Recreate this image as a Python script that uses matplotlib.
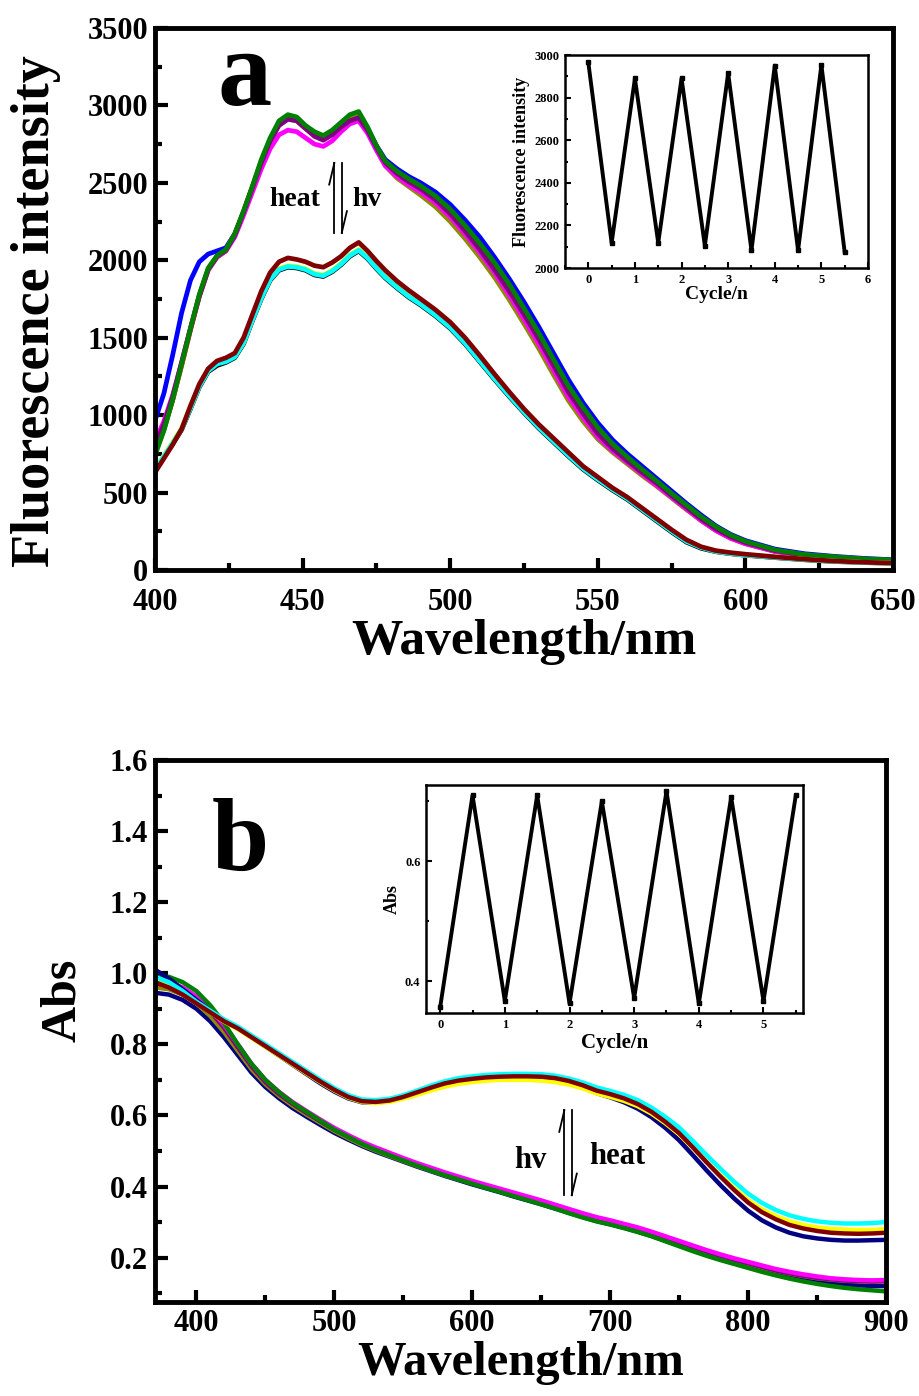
"""Fluorescence / absorption switching spectra with cycle insets"""

import matplotlib
matplotlib.use('Agg')
import matplotlib.pyplot as plt
from matplotlib.ticker import MultipleLocator

plt.rcParams['font.family'] = ['Liberation Serif', 'DejaVu Sans']
plt.rcParams['font.weight'] = 'bold'

# ---------------- panel a : fluorescence spectra ----------------
WL_A = [400, 403, 406, 409, 412, 415, 418, 421, 424, 427, 430, 433, 436, 439,
        442, 445, 448, 451, 454, 457, 460, 463, 466, 469, 472, 475, 478,
        482, 486, 490,
        495, 500, 505, 510, 515, 520, 525, 530, 535, 540, 545, 550, 555, 560,
        565, 570, 575, 580, 585, 590, 595, 600,
        610, 620, 630, 640, 650]

# upper group (heated state)
FL_BLUE = [965, 1140, 1390, 1660, 1870, 1990, 2040, 2060, 2080, 2170, 2310, 2470, 2630, 2770,
           2880, 2920, 2905, 2860, 2810, 2790, 2830, 2880, 2920, 2945, 2850, 2740, 2650,
           2590, 2540, 2500,
           2440, 2360, 2260, 2150, 2020, 1880, 1730, 1570, 1400, 1230, 1080, 950, 840, 750,
           670, 590, 510, 430, 355, 285, 230, 190,
           135, 105, 88, 75, 66]
FL_RED = [760, 910, 1100, 1320, 1550, 1770, 1940, 2025, 2065, 2165, 2315, 2475, 2640, 2780,
          2890, 2925, 2910, 2860, 2815, 2790, 2825, 2875, 2925, 2945, 2850, 2735, 2635,
          2565, 2515, 2470,
          2400, 2310, 2200, 2080, 1950, 1800, 1640, 1480, 1310, 1140, 1000, 870, 775, 695,
          620, 550, 470, 395, 320, 255, 205, 170,
          120, 95, 80, 68, 60]
FL_OLIVE = [760, 905, 1100, 1320, 1550, 1765, 1935, 2020, 2060, 2160, 2310, 2470, 2635, 2775,
            2880, 2915, 2900, 2850, 2810, 2785, 2820, 2870, 2915, 2935, 2840, 2720, 2610,
            2530, 2475, 2420,
            2345, 2250, 2140, 2020, 1890, 1745, 1590, 1430, 1260, 1095, 960, 845, 760, 685,
            610, 540, 465, 390, 320, 260, 210, 175,
            125, 98, 83, 70, 62]
FL_MAGENTA = [830, 960, 1130, 1340, 1560, 1770, 1940, 2020, 2060, 2150, 2290, 2440, 2590, 2720,
              2810, 2840, 2830, 2790, 2750, 2735, 2770, 2830, 2880, 2900, 2820, 2710, 2610,
              2540, 2485, 2440,
              2370, 2280, 2170, 2050, 1920, 1775, 1620, 1460, 1290, 1120, 985, 860, 770, 695,
              620, 545, 470, 395, 320, 255, 205, 170,
              120, 95, 80, 68, 60]
FL_PURPLE = [800, 940, 1120, 1340, 1560, 1770, 1940, 2025, 2065, 2160, 2310, 2470, 2630, 2770,
             2870, 2910, 2900, 2850, 2800, 2775, 2810, 2860, 2900, 2920, 2840, 2730, 2630,
             2560, 2505, 2460,
             2390, 2300, 2190, 2070, 1940, 1800, 1650, 1490, 1320, 1150, 1010, 880, 785, 705,
             630, 560, 480, 405, 330, 265, 215, 178,
             125, 97, 82, 70, 62]
FL_GREEN = [740, 900, 1100, 1330, 1560, 1780, 1950, 2030, 2070, 2170, 2320, 2480, 2650, 2790,
            2900, 2940, 2925, 2870, 2830, 2805, 2840, 2890, 2940, 2960, 2860, 2740, 2640,
            2575, 2525, 2480,
            2415, 2330, 2225, 2110, 1985, 1845, 1690, 1530, 1360, 1190, 1050, 920, 815, 730,
            650, 575, 495, 420, 345, 280, 225, 185,
            130, 100, 85, 72, 64]

# lower group (irradiated state)
FL_BLACK = [640, 730, 815, 905, 1040, 1180, 1280, 1320, 1340, 1370, 1460, 1610, 1750, 1870,
            1935, 1955, 1950, 1935, 1905, 1895, 1925, 1970, 2025, 2060, 2010, 1945, 1885,
            1820, 1760, 1710,
            1640, 1560, 1460, 1345, 1230, 1120, 1015, 915, 825, 735, 650, 580, 515, 455,
            385, 315, 245, 180, 140, 118, 105, 95,
            80, 66, 55, 48, 43]
FL_YELLOW = [650, 740, 825, 915, 1050, 1190, 1290, 1335, 1350, 1380, 1470, 1620, 1760, 1880,
             1945, 1965, 1960, 1945, 1915, 1905, 1935, 1980, 2035, 2070, 2020, 1955, 1895,
             1830, 1770, 1720,
             1650, 1570, 1470, 1355, 1240, 1130, 1025, 925, 835, 745, 660, 590, 525, 465,
             395, 325, 255, 190, 148, 122, 108, 98,
             83, 69, 57, 49, 44]
FL_CYAN = [645, 735, 820, 910, 1045, 1185, 1285, 1330, 1345, 1375, 1465, 1615, 1755, 1875,
           1940, 1960, 1955, 1940, 1910, 1900, 1930, 1975, 2030, 2065, 2015, 1950, 1890,
           1825, 1765, 1715,
           1645, 1565, 1465, 1350, 1235, 1125, 1020, 920, 830, 740, 655, 585, 520, 460,
           390, 320, 250, 185, 145, 120, 107, 97,
           82, 68, 57, 49, 44]
FL_MAROON = [630, 720, 810, 910, 1060, 1200, 1300, 1350, 1370, 1400, 1500, 1650, 1800, 1920,
             1990, 2015, 2005, 1990, 1965, 1955, 1985, 2025, 2080, 2115, 2060, 1995, 1935,
             1865, 1805, 1750,
             1680, 1600, 1500, 1385, 1265, 1150, 1040, 940, 850, 760, 670, 600, 530, 470,
             400, 330, 260, 195, 150, 125, 112, 102,
             85, 70, 58, 50, 45]

# inset a : intensity over switching cycles
CYC_A = [0, 0.5, 1, 1.5, 2, 2.5, 3, 3.5, 4, 4.5, 5, 5.5]
CYC_FL = [2965, 2118, 2890, 2118, 2890, 2105, 2915, 2083, 2950, 2083, 2953, 2074]

# ---------------- panel b : absorption spectra ----------------
WL_B = [370, 380, 390, 400, 410, 420, 430, 440, 450, 460,
        470, 480, 490, 500, 510, 520, 530, 540, 550, 560,
        570, 580, 590, 600, 610, 620, 630, 640, 650, 660,
        670, 680, 690, 700, 710, 720, 730, 740, 750, 760,
        770, 780, 790, 800, 810, 820, 830, 840, 850, 860,
        870, 880, 890, 900]

# coloured (irradiated) state
AB_NAVY_C = [1.01, 0.985, 0.955, 0.925, 0.895, 0.868, 0.846, 0.82, 0.794, 0.768,
             0.742, 0.716, 0.69, 0.667, 0.648, 0.637, 0.636, 0.64, 0.65, 0.663,
             0.676, 0.688, 0.696, 0.701, 0.705, 0.707, 0.708, 0.708, 0.706, 0.701,
             0.692, 0.679, 0.663, 0.651, 0.637, 0.619, 0.595, 0.565, 0.53, 0.488,
             0.445, 0.404, 0.366, 0.332, 0.305, 0.285, 0.27, 0.26, 0.254, 0.25,
             0.248, 0.248, 0.249, 0.25]
AB_YELLOW_C = [0.98, 0.965, 0.942, 0.916, 0.89, 0.864, 0.843, 0.818, 0.793, 0.768,
               0.743, 0.718, 0.693, 0.67, 0.65, 0.638, 0.635, 0.638, 0.647, 0.658,
               0.67, 0.681, 0.689, 0.694, 0.698, 0.7, 0.7, 0.7, 0.698, 0.694,
               0.687, 0.676, 0.662, 0.652, 0.641, 0.626, 0.605, 0.578, 0.547, 0.509,
               0.469, 0.431, 0.395, 0.362, 0.336, 0.317, 0.302, 0.292, 0.285, 0.281,
               0.279, 0.278, 0.278, 0.28]
AB_CYAN_C = [0.99, 0.975, 0.95, 0.92, 0.895, 0.87, 0.85, 0.825, 0.8, 0.775,
             0.75, 0.725, 0.7, 0.677, 0.657, 0.645, 0.643, 0.647, 0.657, 0.67,
             0.684, 0.696, 0.705, 0.71, 0.714, 0.716, 0.717, 0.717, 0.716, 0.712,
             0.704, 0.693, 0.679, 0.669, 0.658, 0.643, 0.622, 0.596, 0.566, 0.528,
             0.488, 0.45, 0.413, 0.38, 0.354, 0.334, 0.319, 0.309, 0.302, 0.298,
             0.296, 0.296, 0.297, 0.3]
AB_MAROON_C = [0.975, 0.96, 0.94, 0.915, 0.89, 0.865, 0.845, 0.82, 0.795, 0.77,
               0.745, 0.72, 0.695, 0.672, 0.652, 0.64, 0.638, 0.642, 0.652, 0.665,
               0.678, 0.69, 0.698, 0.703, 0.707, 0.709, 0.71, 0.71, 0.709, 0.705,
               0.697, 0.685, 0.67, 0.66, 0.648, 0.632, 0.61, 0.582, 0.55, 0.51,
               0.468, 0.428, 0.39, 0.355, 0.328, 0.308, 0.292, 0.282, 0.275, 0.27,
               0.268, 0.267, 0.268, 0.27]

# bleached (heated) state
AB_NAVY_B = [0.945, 0.94, 0.925, 0.9, 0.865, 0.82, 0.77, 0.72, 0.68, 0.648,
             0.62, 0.596, 0.573, 0.551, 0.532, 0.514, 0.498, 0.484, 0.47, 0.456,
             0.443, 0.43, 0.418, 0.406, 0.395, 0.384, 0.372, 0.361, 0.35, 0.338,
             0.326, 0.314, 0.303, 0.294, 0.284, 0.273, 0.261, 0.248, 0.234, 0.22,
             0.207, 0.195, 0.184, 0.174, 0.164, 0.155, 0.147, 0.14, 0.134, 0.129,
             0.125, 0.122, 0.12, 0.12]
AB_OLIVE_B = [0.96, 0.955, 0.94, 0.915, 0.88, 0.835, 0.782, 0.73, 0.688, 0.655,
              0.627, 0.602, 0.579, 0.556, 0.536, 0.517, 0.501, 0.486, 0.472, 0.458,
              0.445, 0.432, 0.42, 0.409, 0.398, 0.387, 0.376, 0.365, 0.354, 0.342,
              0.33, 0.318, 0.307, 0.298, 0.289, 0.279, 0.267, 0.254, 0.241, 0.228,
              0.215, 0.203, 0.192, 0.182, 0.172, 0.163, 0.155, 0.148, 0.142, 0.138,
              0.135, 0.133, 0.132, 0.133]
AB_PURPLE_B = [0.97, 0.97, 0.955, 0.93, 0.893, 0.847, 0.792, 0.738, 0.694, 0.66,
               0.632, 0.607, 0.583, 0.56, 0.54, 0.521, 0.505, 0.49, 0.476, 0.462,
               0.449, 0.436, 0.424, 0.412, 0.401, 0.39, 0.379, 0.368, 0.357, 0.345,
               0.333, 0.321, 0.31, 0.301, 0.291, 0.281, 0.269, 0.256, 0.243, 0.23,
               0.217, 0.205, 0.194, 0.184, 0.174, 0.164, 0.156, 0.149, 0.143, 0.139,
               0.136, 0.134, 0.133, 0.134]
AB_MAGENTA_B = [0.975, 0.975, 0.96, 0.935, 0.9, 0.855, 0.8, 0.745, 0.7, 0.666,
                0.637, 0.612, 0.588, 0.565, 0.545, 0.526, 0.51, 0.495, 0.48, 0.466,
                0.453, 0.44, 0.428, 0.416, 0.405, 0.394, 0.383, 0.372, 0.361, 0.349,
                0.337, 0.325, 0.314, 0.305, 0.295, 0.285, 0.273, 0.26, 0.247, 0.234,
                0.221, 0.209, 0.198, 0.188, 0.178, 0.168, 0.16, 0.153, 0.147, 0.142,
                0.139, 0.137, 0.136, 0.137]
AB_GREEN_B = [0.99, 0.99, 0.975, 0.95, 0.91, 0.86, 0.80, 0.745, 0.70, 0.665,
              0.635, 0.61, 0.585, 0.56, 0.54, 0.52, 0.503, 0.488, 0.473, 0.459,
              0.445, 0.432, 0.42, 0.408, 0.396, 0.385, 0.373, 0.362, 0.35, 0.338,
              0.325, 0.313, 0.302, 0.293, 0.283, 0.272, 0.26, 0.246, 0.232, 0.218,
              0.205, 0.193, 0.182, 0.171, 0.16, 0.15, 0.141, 0.133, 0.126, 0.12,
              0.115, 0.111, 0.108, 0.105]

# inset b : absorbance over switching cycles
CYC_B = [0, 0.5, 1, 1.5, 2, 2.5, 3, 3.5, 4, 4.5, 5, 5.5]
CYC_ABS = [0.357, 0.71, 0.367, 0.71, 0.363, 0.70, 0.372, 0.717, 0.363, 0.707, 0.367, 0.71]


def style_main(ax, xpad=10):
    for sp in ax.spines.values():
        sp.set_linewidth(3.5)
    ax.tick_params(which='both', direction='in', width=3, labelsize=22)
    ax.tick_params(which='major', length=9)
    ax.tick_params(which='minor', length=5)
    ax.tick_params(axis='x', pad=xpad)
    ax.tick_params(axis='y', pad=5)


def style_inset(ax):
    for sp in ax.spines.values():
        sp.set_linewidth(1.8)
    ax.tick_params(which='both', direction='in', width=1.5, labelsize=9, pad=4)
    ax.tick_params(which='major', length=4)
    ax.tick_params(which='minor', length=2.5)


def harpoons(ax, x, y0, y1, gap=0.005):
    """two opposite half-arrows (reversible reaction sign)"""
    kw = dict(transform=ax.transAxes, color='k', lw=1.3, clip_on=False)
    xl, xr = x - gap, x + gap
    ax.plot([xl, xl], [y0, y1], **kw)
    ax.plot([xl, xl - 0.007], [y1, y1 - 0.04], **kw)
    ax.plot([xr, xr], [y0, y1], **kw)
    ax.plot([xr, xr + 0.007], [y0, y0 + 0.04], **kw)


fig = plt.figure(figsize=(9.19, 13.96), dpi=100)

# ---------------- panel a ----------------
ax1 = fig.add_axes([0.1687, 0.5917, 0.8030, 0.3883])
lw = 3.4
for y, c in [(FL_BLUE, '#0000FF'), (FL_RED, '#FF0000'), (FL_OLIVE, '#8B8B00'),
             (FL_MAGENTA, '#FF00FF'), (FL_PURPLE, '#800080'), (FL_GREEN, '#008000'),
             (FL_BLACK, '#000000'), (FL_YELLOW, '#FFFF00'), (FL_CYAN, '#00FFFF'),
             (FL_MAROON, '#800000')]:
    ax1.plot(WL_A, y, color=c, lw=lw, solid_joinstyle='round')
ax1.set_xlim(400, 650)
ax1.set_ylim(0, 3500)
ax1.xaxis.set_major_locator(MultipleLocator(50))
ax1.xaxis.set_minor_locator(MultipleLocator(25))
ax1.yaxis.set_major_locator(MultipleLocator(500))
ax1.yaxis.set_minor_locator(MultipleLocator(250))
style_main(ax1, xpad=13)
ax1.set_xlabel('Wavelength/nm', fontsize=37, fontweight='bold')
ax1.set_ylabel('Fluorescence intensity', fontsize=39, fontweight='bold')
ax1.xaxis.set_label_coords(0.5, -0.09)
ax1.yaxis.set_label_coords(-0.128, 0.478)
ax1.text(0.122, 0.905, 'a', transform=ax1.transAxes, fontsize=78,
         fontweight='bold', ha='center', va='center')
ax1.text(0.19, 0.683, 'heat', transform=ax1.transAxes, fontsize=20,
         fontweight='bold', ha='center', va='center')
ax1.text(0.287, 0.683, 'hv', transform=ax1.transAxes, fontsize=20,
         fontweight='bold', ha='center', va='center')
harpoons(ax1, 0.248, 0.622, 0.751)

# inset a
ins1 = fig.add_axes([0.6148, 0.808, 0.3297, 0.1526])
ins1.plot(CYC_A, CYC_FL, color='k', lw=2.8, marker='s', markersize=3.5)
ins1.set_xlim(-0.5, 6)
ins1.set_ylim(2000, 3000)
ins1.xaxis.set_major_locator(MultipleLocator(1))
ins1.xaxis.set_minor_locator(MultipleLocator(0.5))
ins1.yaxis.set_major_locator(MultipleLocator(200))
ins1.yaxis.set_minor_locator(MultipleLocator(100))
style_inset(ins1)
ins1.set_xlabel('Cycle/n', fontsize=14, fontweight='bold', labelpad=0)
ins1.set_ylabel('Fluorescence intensity', fontsize=13, fontweight='bold', labelpad=3)

# ---------------- panel b ----------------
ax2 = fig.add_axes([0.1687, 0.0673, 0.7954, 0.3883])
lw = 3.2
for y, c in [(AB_NAVY_B, '#000080'), (AB_OLIVE_B, '#8B8B00'), (AB_PURPLE_B, '#800080'),
             (AB_MAGENTA_B, '#FF00FF'), (AB_GREEN_B, '#008000'),
             (AB_NAVY_C, '#000080'), (AB_YELLOW_C, '#FFFF00'), (AB_CYAN_C, '#00FFFF'),
             (AB_MAROON_C, '#800000')]:
    ax2.plot(WL_B, y, color=c, lw=lw, solid_joinstyle='round')
ax2.set_xlim(370, 900)
ax2.set_ylim(0.075, 1.6)
ax2.xaxis.set_major_locator(MultipleLocator(100))
ax2.xaxis.set_minor_locator(MultipleLocator(50))
ax2.yaxis.set_major_locator(MultipleLocator(0.2))
ax2.yaxis.set_minor_locator(MultipleLocator(0.1))
ax2.yaxis.set_major_formatter(plt.FormatStrFormatter('%.1f'))
style_main(ax2, xpad=5)
ax2.set_xlabel('Wavelength/nm', fontsize=35, fontweight='bold')
ax2.set_ylabel('Abs', fontsize=36, fontweight='bold')
ax2.xaxis.set_label_coords(0.5, -0.072)
ax2.yaxis.set_label_coords(-0.094, 0.557)
ax2.text(0.116, 0.843, 'b', transform=ax2.transAxes, fontsize=74,
         fontweight='bold', ha='center', va='center')
ax2.text(0.513, 0.262, 'hv', transform=ax2.transAxes, fontsize=22,
         fontweight='bold', ha='center', va='center')
ax2.text(0.632, 0.268, 'heat', transform=ax2.transAxes, fontsize=22,
         fontweight='bold', ha='center', va='center')
harpoons(ax2, 0.565, 0.197, 0.354)

# inset b
ins2 = fig.add_axes([0.4635, 0.2743, 0.4102, 0.1633])
ins2.plot(CYC_B, CYC_ABS, color='k', lw=2.8, marker='s', markersize=3.5)
ins2.set_xlim(-0.22, 5.61)
ins2.set_ylim(0.347, 0.727)
ins2.xaxis.set_major_locator(MultipleLocator(1))
ins2.xaxis.set_minor_locator(MultipleLocator(0.5))
ins2.yaxis.set_major_locator(MultipleLocator(0.2))
ins2.yaxis.set_minor_locator(MultipleLocator(0.1))
ins2.yaxis.set_major_formatter(plt.FormatStrFormatter('%.1f'))
style_inset(ins2)
ins2.set_xlabel('Cycle/n', fontsize=15, fontweight='bold', labelpad=2)
ins2.set_ylabel('Abs', fontsize=13, fontweight='bold', labelpad=3)

fig.savefig('out.png', dpi=100)
